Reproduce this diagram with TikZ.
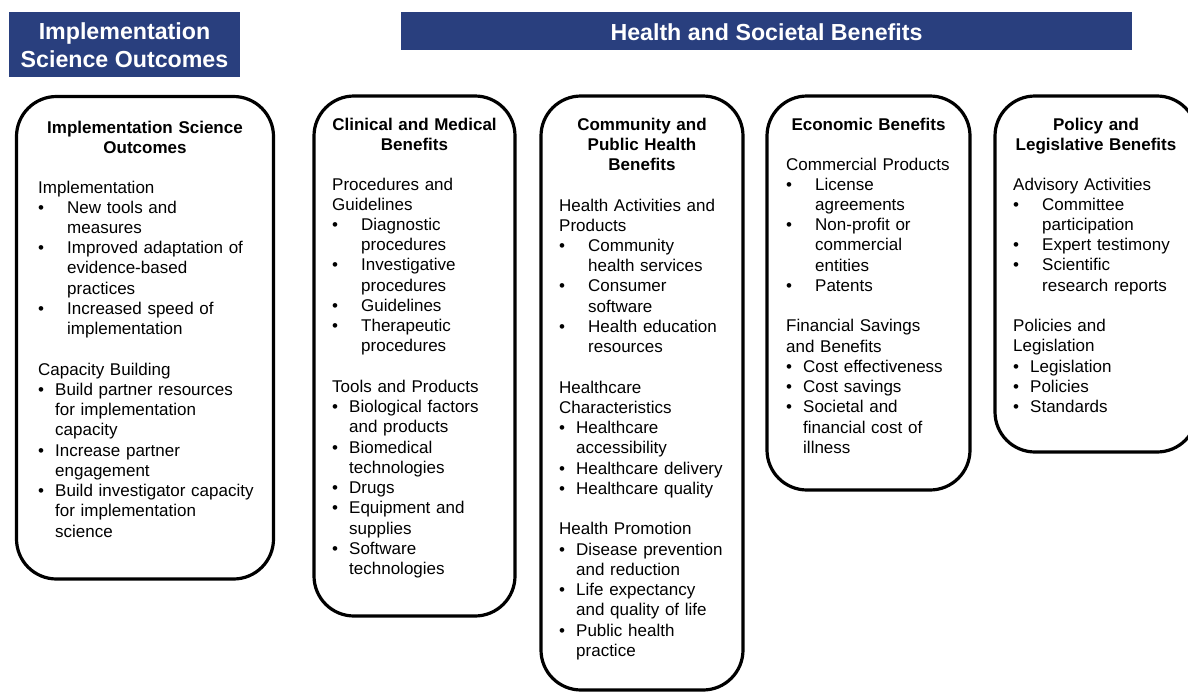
\documentclass[tikz,border=0pt]{standalone}
\usepackage{fontspec}
\setmainfont{Liberation Sans}
\definecolor{navy}{RGB}{41,63,126}
\newcommand\wb[1]{\makebox[29pt][l]{•}#1}
\newcommand\wc[1]{\hspace*{29pt}#1}
\newcommand\nb[1]{\makebox[17pt][l]{•}#1}
\newcommand\nc[1]{\hspace*{17pt}#1}
\newcommand\gap{\\[20.24pt]}
\begin{document}
\begin{tikzpicture}[x=1pt,y=-1pt,
  frame/.style={draw=black, line width=3.2pt, rounded corners=40pt, inner sep=0pt},
  banner/.style={fill=navy, text=white, font=\fontsize{23.2}{28}\selectfont\bfseries, inner sep=0pt, align=center},
  head/.style={font=\fontsize{17}{20.24}\selectfont\bfseries, text width=200pt, align=center, inner sep=0pt, anchor=base},
  body/.style={font=\fontsize{17}{20.24}\selectfont, text width=260pt, align=left, inner sep=0pt, anchor=base west}]
\useasboundingbox (0,0) rectangle (1188,691);
% banners
\node[banner, minimum width=231pt, minimum height=65pt] (b1) at (124.5,44.5) {};
\node[banner, anchor=base] (b1t) at (124.5,67) {Implementation\\[-0.2pt]Science Outcomes};
\node[banner, minimum width=731pt, minimum height=38pt] (b2) at (766.5,31) {};
\node[banner, anchor=base] (b2t) at (766.5,40) {Health and Societal Benefits};
% frames
\node[frame, minimum width=257pt, minimum height=482.5pt] (f1) at (145,337.75) {};
\node[frame, minimum width=201pt, minimum height=520pt] (f2) at (414.5,356) {};
\node[frame, minimum width=202pt, minimum height=594pt] (f3) at (642,393) {};
\node[frame, minimum width=203pt, minimum height=394pt] (f4) at (868.5,293) {};
\node[frame, minimum width=202pt, minimum height=356pt] (f5) at (1096,274) {};
% headings
\node[head] (h1) at (145,133) {Implementation Science\\Outcomes};
\node[head] (h2) at (414.5,130) {Clinical and Medical\\Benefits};
\node[head] (h3) at (642,130) {Community and\\Public Health\\Benefits};
\node[head] (h4) at (868.5,130) {Economic Benefits};
\node[head] (h5) at (1096,130) {Policy and\\Legislative Benefits};
% bodies
\node[body] (t1) at (38,193) {Implementation\\
\wb{New tools and}\\
\wc{measures}\\
\wb{Improved adaptation of}\\
\wc{evidence-based}\\
\wc{practices}\\
\wb{Increased speed of}\\
\wc{implementation}\gap
Capacity Building\\
\nb{Build partner resources}\\
\nc{for implementation}\\
\nc{capacity}\\
\nb{Increase partner}\\
\nc{engagement}\\
\nb{Build investigator capacity}\\
\nc{for implementation}\\
\nc{science}};
\node[body] (t2) at (332,190) {Procedures and\\
Guidelines\\
\wb{Diagnostic}\\
\wc{procedures}\\
\wb{Investigative}\\
\wc{procedures}\\
\wb{Guidelines}\\
\wb{Therapeutic}\\
\wc{procedures}\gap
Tools and Products\\
\nb{Biological factors}\\
\nc{and products}\\
\nb{Biomedical}\\
\nc{technologies}\\
\nb{Drugs}\\
\nb{Equipment and}\\
\nc{supplies}\\
\nb{Software}\\
\nc{technologies}};
\node[body] (t3) at (559,211) {Health Activities and\\
Products\\
\wb{Community}\\
\wc{health services}\\
\wb{Consumer}\\
\wc{software}\\
\wb{Health education}\\
\wc{resources}\gap
Healthcare\\
Characteristics\\
\nb{Healthcare}\\
\nc{accessibility}\\
\nb{Healthcare delivery}\\
\nb{Healthcare quality}\gap
Health Promotion\\
\nb{Disease prevention}\\
\nc{and reduction}\\
\nb{Life expectancy}\\
\nc{and quality of life}\\
\nb{Public health}\\
\nc{practice}};
\node[body] (t4) at (786,170) {Commercial Products\\
\wb{License}\\
\wc{agreements}\\
\wb{Non-profit or}\\
\wc{commercial}\\
\wc{entities}\\
\wb{Patents}\gap
Financial Savings\\
and Benefits\\
\nb{Cost effectiveness}\\
\nb{Cost savings}\\
\nb{Societal and}\\
\nc{financial cost of}\\
\nc{illness}};
\node[body] (t5) at (1013,190) {Advisory Activities\\
\wb{Committee}\\
\wc{participation}\\
\wb{Expert testimony}\\
\wb{Scientific}\\
\wc{research reports}\gap
Policies and\\
Legislation\\
\nb{Legislation}\\
\nb{Policies}\\
\nb{Standards}};
\end{tikzpicture}
\end{document}
